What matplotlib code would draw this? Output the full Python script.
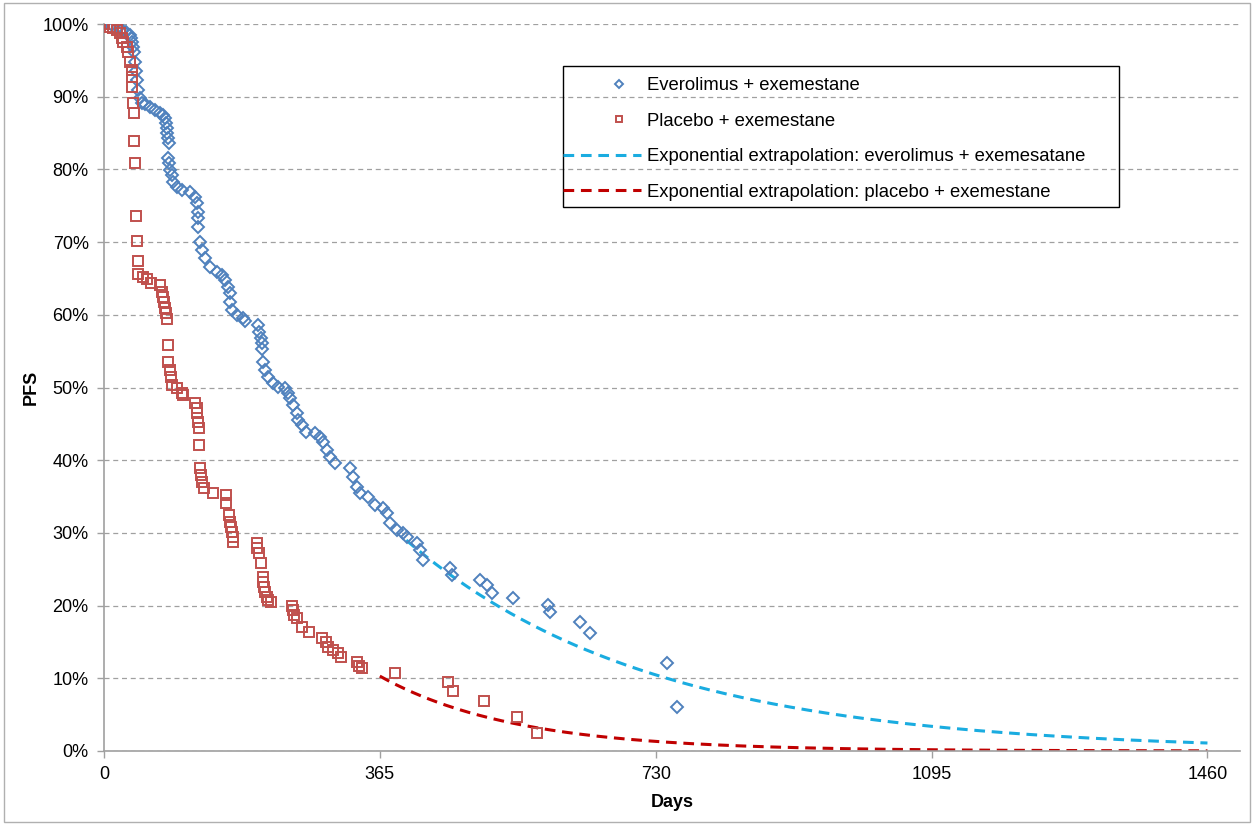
import numpy as np
import matplotlib
matplotlib.use("Agg")
import matplotlib.pyplot as plt
from matplotlib.patches import Rectangle
from matplotlib.ticker import FuncFormatter
from matplotlib.legend_handler import HandlerLine2D

plt.rcParams['font.family'] = ['Liberation Sans', 'DejaVu Sans']

# everolimus + exemestane (days, PFS %)
evero_days = [0, 10.6, 18.5, 23.8, 29.1, 34.4, 35.7, 37.0, 38.4, 39.7, 41.0, 42.3, 43.7, 45.0,
              47.6, 50.3, 54.2, 60.8, 67.5, 74.1, 78.0, 80.7, 82.0, 83.3, 83.3, 84.7, 86.0,
              84.7, 86.0, 87.3, 89.9, 91.3, 96.6, 103.2, 113.8, 120.4, 123.0, 124.3, 124.3,
              124.3, 127.0, 129.6, 133.6, 140.2, 149.5, 156.1, 160.1, 164.0, 166.7, 166.7,
              169.3, 175.9, 183.9, 186.5, 203.7, 205.0, 207.7, 209.0, 209.0, 210.3, 213.0,
              216.9, 223.5, 230.2, 239.4, 243.4, 246.0, 250.0, 255.3, 256.6, 261.9, 267.2,
              279.1, 285.7, 289.7, 295.0, 298.9, 305.6, 325.4, 329.4, 334.7, 338.6, 349.2,
              358.5, 369.0, 374.3, 378.3, 387.6, 395.5, 400.8, 414.0, 418.0, 422.0, 457.7,
              460.3, 497.4, 506.6, 513.2, 541.0, 587.3, 590.0, 629.6, 642.9, 744.7, 757.9]
evero_pfs = [100.0, 99.9, 99.6, 99.2, 98.9, 98.5, 98.1, 97.5, 96.8, 96.1, 94.8, 93.5, 92.3, 90.9,
             89.8, 89.1, 89.0, 88.6, 88.2, 87.8, 87.5, 87.1, 86.4, 85.7, 85.0, 84.3, 83.6,
             81.6, 80.9, 79.9, 79.2, 78.3, 77.6, 77.2, 76.9, 76.2, 75.4, 74.1, 73.3,
             72.1, 70.0, 68.9, 67.8, 66.6, 65.9, 65.5, 64.8, 63.8, 63.0, 61.8,
             60.7, 60.0, 59.6, 59.1, 58.6, 57.6, 56.8, 56.1, 55.3, 53.5, 52.4,
             51.4, 50.6, 50.1, 49.9, 49.2, 48.6, 47.6, 46.5, 45.5, 44.8, 43.9,
             43.7, 43.2, 42.5, 41.4, 40.4, 39.6, 38.9, 37.7, 36.3, 35.5, 34.9,
             33.8, 33.4, 32.7, 31.4, 30.4, 30.0, 29.4, 28.6, 27.6, 26.3, 25.2,
             24.2, 23.5, 22.8, 21.7, 21.0, 20.1, 19.1, 17.7, 16.2, 12.1, 6.1]

# placebo + exemestane (days, PFS %)
placebo_days = [0, 7.9, 11.9, 17.2, 21.2, 23.8, 25.1, 30.4, 31.7, 34.4, 37.0, 37.0, 37.0, 38.4,
                39.7, 39.7, 41.0, 42.3, 43.7, 45.0, 45.0, 51.6, 56.9, 62.2, 74.1, 76.7, 78.0,
                79.4, 80.7, 82.0, 83.3, 84.7, 84.7, 87.3, 88.6, 89.9, 96.6, 103.2, 104.5,
                120.4, 123.0, 123.0, 124.3, 125.7, 125.7, 127.0, 128.3, 129.6, 132.3, 144.2,
                161.4, 161.4, 165.3, 166.7, 168.0, 169.3, 170.6, 170.6, 202.4, 202.4, 205.0,
                207.7, 210.3, 210.3, 211.6, 213.0, 215.6, 216.9, 220.9, 248.7, 250.0, 251.3,
                255.3, 261.9, 271.2, 288.4, 293.7, 296.3, 302.9, 309.5, 313.5, 334.7, 337.3,
                341.3, 384.9, 455.0, 461.6, 502.6, 546.3, 572.8]
placebo_pfs = [100.0, 99.6, 99.4, 99.2, 98.8, 98.1, 97.5, 96.8, 96.1, 94.8, 93.7, 92.7, 91.3, 89.1,
               87.8, 83.9, 80.9, 73.6, 70.2, 67.4, 65.6, 65.2, 64.9, 64.4, 64.1, 63.1, 62.4,
               61.8, 60.9, 60.2, 59.4, 55.8, 53.5, 52.4, 51.4, 50.3, 49.9, 49.2, 49.0,
               47.9, 47.2, 46.5, 45.3, 44.4, 42.1, 38.9, 38.0, 37.0, 36.2, 35.5,
               35.2, 34.1, 32.5, 31.5, 30.8, 30.1, 29.4, 28.7, 28.6, 27.9, 27.2,
               25.9, 23.9, 23.2, 22.6, 21.9, 21.2, 20.8, 20.5, 19.9, 19.4, 18.7,
               18.3, 17.1, 16.4, 15.5, 15.0, 14.3, 13.9, 13.5, 12.9, 12.2, 11.7,
               11.4, 10.7, 9.5, 8.3, 6.9, 4.7, 2.5]

# exponential extrapolations: start day, PFS at start (%), rate per day
evero_ext = (400, 29.0, 0.003087)
placebo_ext = (365, 10.3, 0.00563)
ext_end = 1460

x_ticks = [0, 365, 730, 1095, 1460]


# excel puts the legend marker right of centre (marker-only lines, so shift the handle line)
class RightMarker(HandlerLine2D):
    def get_xdata(self, legend, xdescent, ydescent, width, height, fontsize):
        xdata = np.array([-xdescent + 0.44 * width, -xdescent + width])
        return xdata, xdata


fig = plt.figure(figsize=(12.54, 8.25), dpi=100)
ax = fig.add_axes([0.0829, 0.0897, 0.9059, 0.8812])

ev, = ax.plot(evero_days, np.array(evero_pfs) / 100, linestyle='none', marker='D', markersize=6.3,
              markerfacecolor='none', markeredgecolor='#4F81BD', markeredgewidth=1.4,
              label='Everolimus + exemestane', zorder=3)
pl, = ax.plot(placebo_days, np.array(placebo_pfs) / 100, linestyle='none', marker='s', markersize=7.2,
              markerfacecolor='none', markeredgecolor='#C0504D', markeredgewidth=1.4,
              label='Placebo + exemestane', zorder=3)

t0, s0, lam = evero_ext
t = np.linspace(t0, ext_end, 300)
ax.plot(t, s0 / 100 * np.exp(-lam * (t - t0)), color='#1AACE0', linestyle=(0, (3.5, 2.2)),
        linewidth=2.2, label='Exponential extrapolation: everolimus + exemesatane', zorder=2)
t0, s0, lam = placebo_ext
t = np.linspace(t0, ext_end, 300)
ax.plot(t, s0 / 100 * np.exp(-lam * (t - t0)), color='#C00000', linestyle=(0, (3.5, 2.2)),
        linewidth=2.2, label='Exponential extrapolation: placebo + exemestane', zorder=2)

ax.set_xlim(0, 1503)
ax.set_ylim(0, 1.0)
ax.set_xticks(x_ticks)
ax.set_yticks(np.arange(0, 1.01, 0.1))
ax.yaxis.set_major_formatter(FuncFormatter(lambda v, p: f"{v * 100:.0f}%"))
ax.tick_params(axis='both', labelsize=13, colors='#A0A0A0', labelcolor='black', length=5, width=1)
ax.tick_params(axis='x', direction='out', pad=6)
ax.tick_params(axis='y', pad=6)
ax.grid(axis='y', color='#A0A0A0', linestyle=(0, (4, 3)), linewidth=0.9)
ax.set_axisbelow(True)
for side in ['top', 'right']:
    ax.spines[side].set_visible(False)
for side in ['left', 'bottom']:
    ax.spines[side].set_color('#A0A0A0')
    ax.spines[side].set_linewidth(1.2)

ax.set_xlabel('Days', fontsize=13, fontweight='bold', labelpad=8)
ax.set_ylabel('PFS', fontsize=13, fontweight='bold', labelpad=2)

leg = ax.legend(loc='upper left', bbox_to_anchor=(0.3944, 0.9422), fontsize=13.3, frameon=False,
                handlelength=4.2, handletextpad=0.35, borderpad=0.62, labelspacing=1.0,
                markerscale=0.6, borderaxespad=0,
                handler_map={ev: RightMarker(numpoints=1), pl: RightMarker(numpoints=1)})
ax.add_patch(Rectangle((0.4040, 0.7483), 0.4895, 0.1939, transform=ax.transAxes,
                       fill=False, edgecolor='black', linewidth=1.0, zorder=5))

fig.patches.append(Rectangle((0.003, 0.004), 0.994, 0.992, transform=fig.transFigure,
                             fill=False, edgecolor='#B0B0B0', linewidth=1))

fig.savefig('out.png', dpi=100)
